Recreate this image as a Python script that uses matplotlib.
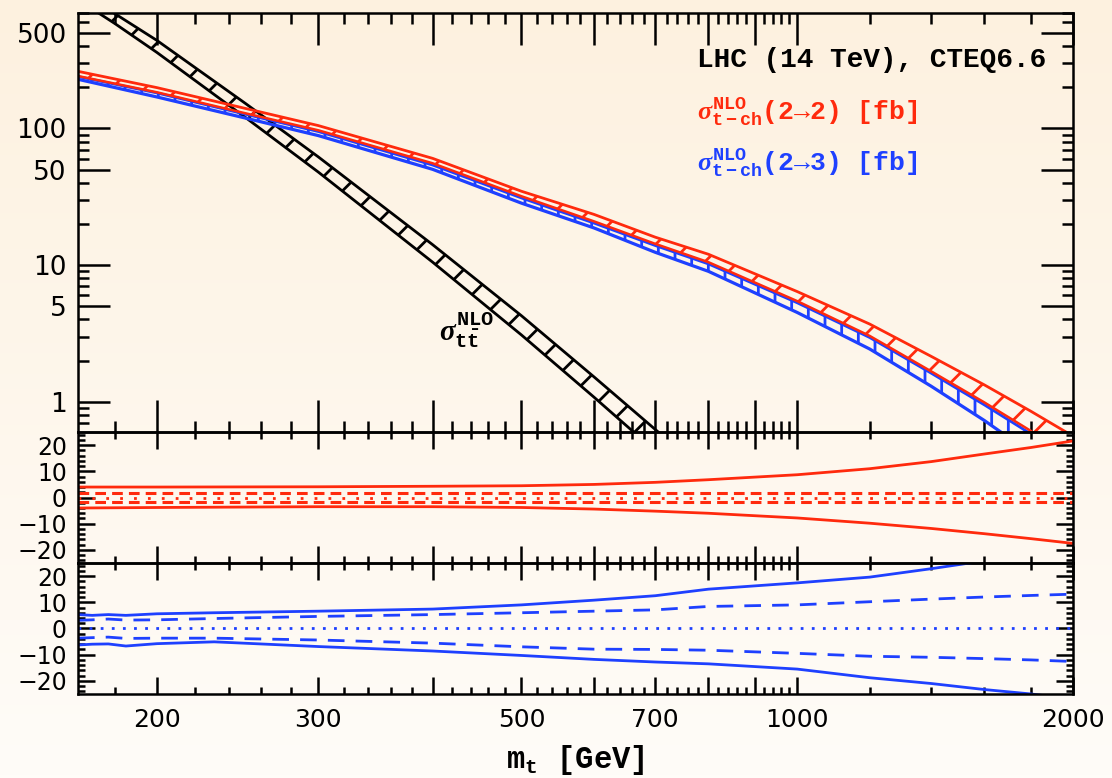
"""
Single top t-channel cross section vs m_t with ratio panels
"""
import numpy as np
import matplotlib
matplotlib.use('Agg')
import matplotlib.pyplot as plt
from matplotlib.colors import LinearSegmentedColormap
from matplotlib.ticker import FixedLocator, FixedFormatter, NullFormatter

# ── Styling ───────────────────────────────────────────────────────────────────
plt.rcParams.update({
    'font.family': ['DejaVu Sans'],
    'mathtext.fontset': 'custom',
    'mathtext.rm': 'Liberation Mono:bold',
    'mathtext.it': 'Liberation Serif:italic:bold',
    'mathtext.bf': 'Liberation Mono:bold',
    'mathtext.tt': 'Liberation Mono:bold',
    'hatch.linewidth': 2.0,
    'axes.linewidth': 1.8,
})
TXT_FONT = ['Liberation Mono', 'DejaVu Sans Mono']
RED = '#FF2A0D'
BLUE = '#1E40FF'

# ── Data ──────────────────────────────────────────────────────────────────────
# top panel: bands in fb
MASS_TOP = [164, 200, 250, 300, 400, 500, 600, 700, 800, 1000, 1200, 1400, 1600, 1800, 2000]
RED_HI = [262, 199, 140, 105, 60.4, 34.7, 23.5, 16.0, 12.0, 6.4, 3.7, 2.15, 1.33, 0.85, 0.56]
RED_LO = [242, 184, 129, 97, 55.6, 31.9, 20.9, 14.3, 10.5, 5.45, 3.03, 1.67, 0.99, 0.61, 0.38]
BLUE_HI = [240, 182, 127, 95, 54, 31, 20.3, 13.9, 10.2, 5.3, 2.95, 1.62, 0.95, 0.58, 0.36]
BLUE_LO = [229, 170, 119, 88.7, 50.2, 28.4, 18.7, 12.4, 9.0, 4.5, 2.43, 1.30, 0.73, 0.42, 0.25]

MASS_TT = [160, 180, 200, 250, 300, 400, 500, 600, 700, 800]
TT_HI = [1120, 691, 441, 152, 62, 14.1, 4.26, 1.52, 0.626, 0.29]
TT_LO = [975, 585, 360, 120, 48, 10.5, 3.08, 1.08, 0.435, 0.195]

# middle panel: 2->2 relative uncertainty [%]
MASS_R22 = [164, 200, 300, 400, 500, 600, 700, 800, 1000, 1200, 1400, 1600, 1800, 2000]
R22_HI = [4.0, 4.0, 4.1, 4.3, 4.5, 5.0, 5.8, 6.8, 8.7, 11.0, 13.7, 16.6, 19.1, 21.6]
R22_LO = [-4.0, -3.8, -3.5, -3.5, -3.8, -4.4, -5.2, -6.0, -7.8, -9.8, -11.8, -13.8, -15.7, -17.5]
R22_SCALE = 1.8

# bottom panel: 2->3 relative uncertainty [%]
MASS_R23 = [164, 170, 177, 185, 200, 231, 300, 400, 500, 600, 700, 800, 1000, 1200, 1400, 1600, 1800, 2000]
R23_HI = [5.3, 5.0, 5.3, 5.0, 5.6, 6.0, 6.6, 7.4, 9.0, 10.8, 12.5, 15.0, 17.4, 19.6, 22.8, 25.8, 28.5, 31.0]
R23_HI_SC = [3.1, 3.3, 3.6, 3.2, 3.3, 3.8, 4.6, 5.3, 6.0, 6.6, 7.1, 8.4, 9.0, 10.2, 11.2, 12.0, 12.6, 13.1]
R23_LO_SC = [-3.7, -3.5, -3.3, -3.8, -3.7, -3.7, -4.4, -5.6, -7.0, -7.9, -8.0, -8.3, -9.5, -10.6, -11.0, -11.5, -12.0, -12.6]
R23_LO = [-6.3, -6.0, -5.9, -6.7, -5.8, -5.1, -6.9, -8.6, -10.3, -11.8, -12.8, -13.5, -15.5, -18.8, -21.0, -23.3, -25.0, -27.0]

# ticks
X_MAJOR = [200, 300, 400, 500, 600, 700, 800, 900, 1000, 2000]
X_LABELS = ['200', '300', '', '500', '', '700', '', '', '1000', '2000']
X_MINOR = [180] + [m for m in range(220, 1000, 20) if m % 100] + [1200, 1400, 1600, 1800]
Y_MAJOR_TOP = [1, 5, 10, 50, 100, 500]
Y_MINOR_TOP = [0.7, 0.8, 0.9, 2, 3, 4, 6, 7, 8, 9, 20, 30, 40, 60, 70, 80, 90,
               200, 300, 400, 600, 700]
Y_MAJOR_RAT = [-20, -10, 0, 10, 20]
Y_MINOR_RAT = list(range(-24, 25, 2))

# ── Figure / background ───────────────────────────────────────────────────────
fig = plt.figure(figsize=(11.12, 7.78), dpi=100)
bg = fig.add_axes([0, 0, 1, 1], zorder=-10)
bg.imshow(np.linspace(0, 1, 256)[:, None], aspect='auto', extent=[0, 1, 0, 1],
          cmap=LinearSegmentedColormap.from_list('bg', ['#FDF1DF', '#FFFCF8']))
bg.axis('off')

L, W = 0.0701, 0.8948
ax_top = fig.add_axes([L, 0.4447, W, 0.5386])
ax_mid = fig.add_axes([L, 0.2763, W, 0.1684], sharex=ax_top)
ax_bot = fig.add_axes([L, 0.1080, W, 0.1684], sharex=ax_top)


def style_axis(ax, big, small):
    ax.set_facecolor('none')
    ax.set_xscale('log')
    ax.set_xlim(164, 2000)
    ax.xaxis.set_major_locator(FixedLocator(X_MAJOR))
    ax.xaxis.set_minor_locator(FixedLocator(X_MINOR))
    ax.xaxis.set_minor_formatter(NullFormatter())
    ax.tick_params(which='both', direction='in', top=True, right=True, width=1.8, colors='black')
    ax.tick_params(which='major', length=big)
    ax.tick_params(which='minor', length=small)


# ── Top panel ─────────────────────────────────────────────────────────────────
style_axis(ax_top, 23, 8)
ax_top.set_yscale('log')
ax_top.set_ylim(0.6, 700)
ax_top.yaxis.set_major_locator(FixedLocator(Y_MAJOR_TOP))
ax_top.yaxis.set_major_formatter(FixedFormatter([str(v) for v in Y_MAJOR_TOP]))
ax_top.yaxis.set_minor_locator(FixedLocator(Y_MINOR_TOP))
ax_top.yaxis.set_minor_formatter(NullFormatter())
ax_top.tick_params(axis='y', labelsize=19, pad=8)
ax_top.tick_params(axis='x', labelbottom=False)

# ttbar band
ax_top.fill_between(MASS_TT, TT_LO, TT_HI, facecolor='none', edgecolor='black', hatch='/', lw=0)
ax_top.plot(MASS_TT, TT_HI, color='black', lw=2)
ax_top.plot(MASS_TT, TT_LO, color='black', lw=2)

# 2->3 band
ax_top.fill_between(MASS_TOP, BLUE_LO, BLUE_HI, facecolor='none', edgecolor=BLUE, hatch='|', lw=0)
ax_top.plot(MASS_TOP, BLUE_HI, color=BLUE, lw=2)
ax_top.plot(MASS_TOP, BLUE_LO, color=BLUE, lw=2.3)

# 2->2 band
ax_top.fill_between(MASS_TOP, RED_LO, RED_HI, facecolor='none', edgecolor=RED, hatch='/', lw=0)
ax_top.plot(MASS_TOP, RED_LO, color=RED, lw=1.8)
ax_top.plot(MASS_TOP, RED_HI, color=RED, lw=2)

ax_top.text(0.622, 0.888, 'LHC (14 TeV), CTEQ6.6', transform=ax_top.transAxes,
            fontsize=20, family=TXT_FONT, weight='bold', ha='left', va='center')
ax_top.text(0.622, 0.764, r'$\sigma^{\mathbf{NLO}}_{\mathbf{t-ch}}$(2→2) [fb]',
            transform=ax_top.transAxes, fontsize=19, family=TXT_FONT, weight='bold',
            color=RED, ha='left', va='center')
ax_top.text(0.622, 0.644, r'$\sigma^{\mathbf{NLO}}_{\mathbf{t-ch}}$(2→3) [fb]',
            transform=ax_top.transAxes, fontsize=19, family=TXT_FONT, weight='bold',
            color=BLUE, ha='left', va='center')
ax_top.text(0.391, 0.243, r'$\sigma^{\mathbf{NLO}}_{\mathbf{t}\bar{\mathbf{t}}}$',
            transform=ax_top.transAxes, fontsize=21, ha='center', va='center')

# ── Middle panel (2->2) ───────────────────────────────────────────────────────
style_axis(ax_mid, 12, 5)
ax_mid.set_ylim(-25, 25)
ax_mid.plot(MASS_R22, R22_HI, color=RED, lw=2)
ax_mid.plot(MASS_R22, R22_LO, color=RED, lw=2)
ax_mid.axhline(R22_SCALE, color=RED, lw=2.2, ls=(0, (3.5, 2)))
ax_mid.axhline(-R22_SCALE, color=RED, lw=2.2, ls=(0, (3.5, 2)))
ax_mid.axhline(0, color=RED, lw=2, ls=(0, (1, 4)))
ax_mid.tick_params(axis='x', labelbottom=False)

# ── Bottom panel (2->3) ───────────────────────────────────────────────────────
style_axis(ax_bot, 12, 5)
ax_bot.set_ylim(-25, 25)
ax_bot.plot(MASS_R23, R23_HI, color=BLUE, lw=2)
ax_bot.plot(MASS_R23, R23_LO, color=BLUE, lw=2)
ax_bot.plot(MASS_R23, R23_HI_SC, color=BLUE, lw=2, ls=(0, (6, 4)))
ax_bot.plot(MASS_R23, R23_LO_SC, color=BLUE, lw=2, ls=(0, (6, 4)))
ax_bot.axhline(0, color=BLUE, lw=2, ls=(0, (1, 3)))
ax_bot.xaxis.set_major_formatter(FixedFormatter(X_LABELS))
ax_bot.tick_params(axis='x', labelsize=18, pad=10)
ax_bot.set_xlabel(r'$\mathrm{m_t}$ [GeV]', fontsize=22, family=TXT_FONT, weight='bold',
                  labelpad=8)

for ax in (ax_mid, ax_bot):
    ax.yaxis.set_major_locator(FixedLocator(Y_MAJOR_RAT))
    ax.yaxis.set_minor_locator(FixedLocator(Y_MINOR_RAT))
    ax.yaxis.set_minor_formatter(NullFormatter())
    ax.tick_params(axis='y', labelsize=17, pad=8)

fig.savefig('out.png', dpi=100, facecolor='#FDF3E4')
